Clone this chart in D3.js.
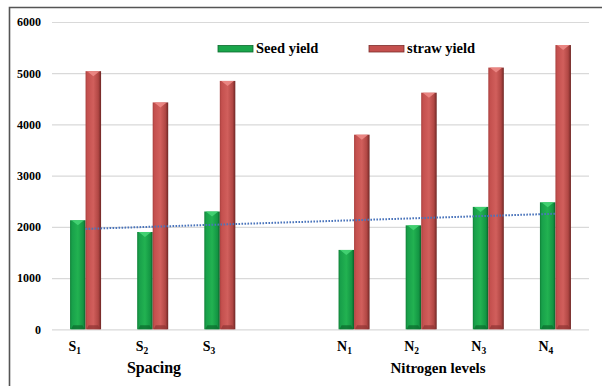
<!DOCTYPE html>
<html>
<head>
<meta charset="utf-8">
<script src="https://cdn.jsdelivr.net/npm/d3@7"></script>
<style>
  html, body { margin: 0; padding: 0; background: #fff; }
  svg { display: block; }
</style>
</head>
<body>
<svg id="chart" width="602" height="386"></svg>
<script>
// Categories: three spacing treatments, a blank slot, four nitrogen levels
const categories = ["S1", "S2", "S3", "", "N1", "N2", "N3", "N4"];
const catMain = ["S", "S", "S", "", "N", "N", "N", "N"];
const catSub  = ["1", "2", "3", "", "1", "2", "3", "4"];
const seedYield  = [2130, 1900, 2300, null, 1550, 2030, 2390, 2480];
const strawYield = [5040, 4430, 4850, null, 3800, 4620, 5110, 5550];
const yTicks = [0, 1000, 2000, 3000, 4000, 5000, 6000];
const seriesNames = ["Seed yield", "straw yield"];

const FONT = "'Liberation Serif', 'Times New Roman', Tinos, 'DejaVu Serif', serif";

const svg = d3.select("#chart")
  .attr("font-family", FONT)
  .attr("font-weight", "bold");
const W = 602, H = 386;
const plot = { left: 52, right: 589, top: 22, bottom: 329.3 };

// outer frame (right and bottom edges fall outside the view)
svg.append("path")
  .attr("d", `M9.5,${H + 5} V7.5 H${W + 5}`)
  .attr("fill", "none")
  .attr("stroke", "#555")
  .attr("stroke-width", 1.6);

const keys = categories.map((c, i) => c || "blank" + i);
const x = d3.scaleBand().domain(keys).range([plot.left, plot.right]).padding(0);
const y = d3.scaleLinear().domain([0, 6000]).range([plot.bottom, plot.top]);
const barW = x.bandwidth() * 0.231;
const xs = d3.scaleOrdinal().domain(["seed", "straw"]).range([-barW, 0]);

// value axis with gridlines
const yAxis = svg.append("g")
  .attr("transform", `translate(${plot.left},0)`)
  .call(d3.axisLeft(y).tickValues(yTicks).tickFormat(d3.format("d"))
    .tickSizeInner(-(plot.right - plot.left)).tickSizeOuter(0).tickPadding(11));
yAxis.attr("font-family", FONT).attr("font-size", 12).attr("font-weight", "bold");
yAxis.select(".domain").remove();
yAxis.selectAll(".tick line").attr("stroke", "#d9d9d9").attr("stroke-width", 1.2);
yAxis.selectAll(".tick text").attr("fill", "#000");

// gradients giving the bars a bevelled look
const defs = svg.append("defs");
function grad(id, stops) {
  const g = defs.append("linearGradient").attr("id", id).attr("x1", 0).attr("x2", 1).attr("y1", 0).attr("y2", 0);
  stops.forEach(s => g.append("stop").attr("offset", s[0]).attr("stop-color", s[1]));
}
grad("gSeed", [[0, "#0f7f36"], [0.12, "#18a04a"], [0.5, "#22b251"], [0.85, "#139543"], [1, "#0a5e27"]]);
grad("gStraw", [[0, "#a8403e"], [0.12, "#c4504e"], [0.5, "#d15f5c"], [0.82, "#b14744"], [1, "#6e2624"]]);

const palette = {
  seed:  { fill: "url(#gSeed)",  top: "#45d474", bottom: "#0b6a2c" },
  straw: { fill: "url(#gStraw)", top: "#ec8a86", bottom: "#8e3533" }
};

function drawBars(series, vals) {
  const g = svg.append("g");
  const data = keys.map((k, i) => ({ k, v: vals[i] })).filter(d => d.v != null);
  const sel = g.selectAll("g.bar").data(data).enter().append("g").attr("class", "bar");
  sel.append("rect")
    .attr("x", d => x(d.k) + x.bandwidth() / 2 + xs(series))
    .attr("y", d => y(d.v))
    .attr("width", barW)
    .attr("height", d => y(0) - y(d.v))
    .attr("fill", palette[series].fill);
  // top bevel chevron
  sel.append("path")
    .attr("d", d => {
      const x0 = x(d.k) + x.bandwidth() / 2 + xs(series), y0 = y(d.v);
      return `M${x0 + 1.5},${y0} L${x0 + barW - 1.5},${y0} L${x0 + barW / 2},${y0 + 5} Z`;
    })
    .attr("fill", palette[series].top)
    .attr("opacity", 0.9);
  // bottom bevel
  sel.append("path")
    .attr("d", d => {
      const x0 = x(d.k) + x.bandwidth() / 2 + xs(series), y0 = y(0);
      return `M${x0 + 1},${y0} L${x0 + barW - 1},${y0} L${x0 + barW - 3},${y0 - 4} L${x0 + 3},${y0 - 4} Z`;
    })
    .attr("fill", palette[series].bottom)
    .attr("opacity", 0.7);
}
drawBars("seed", seedYield);
drawBars("straw", strawYield);

// linear trendline of seed yield over slot positions
const pts = seedYield.map((v, i) => ({ i: i + 1, v, k: keys[i] })).filter(d => d.v != null);
const mx = d3.mean(pts, d => d.i), my = d3.mean(pts, d => d.v);
const slope = d3.sum(pts, d => (d.i - mx) * (d.v - my)) / d3.sum(pts, d => (d.i - mx) ** 2);
const fit = i => my + slope * (i - mx);
const first = pts[0], last = pts[pts.length - 1];
svg.append("line")
  .attr("x1", x(first.k) + x.bandwidth() / 2)
  .attr("y1", y(fit(first.i)))
  .attr("x2", x(last.k) + x.bandwidth() / 2)
  .attr("y2", y(fit(last.i)))
  .attr("stroke", "#4a74bb")
  .attr("stroke-width", 2)
  .attr("stroke-dasharray", "1.6,1.4");

// category labels with subscripts
const lab = svg.append("g");
keys.forEach((k, i) => {
  if (!categories[i]) return;
  const t = lab.append("text")
    .attr("x", x(k) + x.bandwidth() / 2 + xs("seed") - 1.5)
    .attr("y", 351)
    .attr("font-size", 14);
  t.append("tspan").text(catMain[i]);
  t.append("tspan").attr("font-size", 9.5).attr("dy", 3).text(catSub[i]);
});

// group titles
svg.append("text").attr("x", 154).attr("y", 373).attr("text-anchor", "middle")
  .attr("font-size", 16).text("Spacing");
svg.append("text").attr("x", 438).attr("y", 373).attr("text-anchor", "middle")
  .attr("font-size", 15).text("Nitrogen levels");

// legend
const legend = [
  { name: seriesNames[0], s: "seed", x: 218 },
  { name: seriesNames[1], s: "straw", x: 369 }
];
legend.forEach(l => {
  svg.append("rect").attr("x", l.x).attr("y", 45.5).attr("width", 35).attr("height", 6.5)
    .attr("fill", l.s === "seed" ? "#1aa64b" : "#c4504e")
    .attr("stroke", l.s === "seed" ? "#0c6a2d" : "#7e2d2b").attr("stroke-width", 0.8);
  svg.append("text").attr("x", l.x + 38).attr("y", 53).attr("font-size", 14.5).text(l.name);
});
</script>
</body>
</html>
